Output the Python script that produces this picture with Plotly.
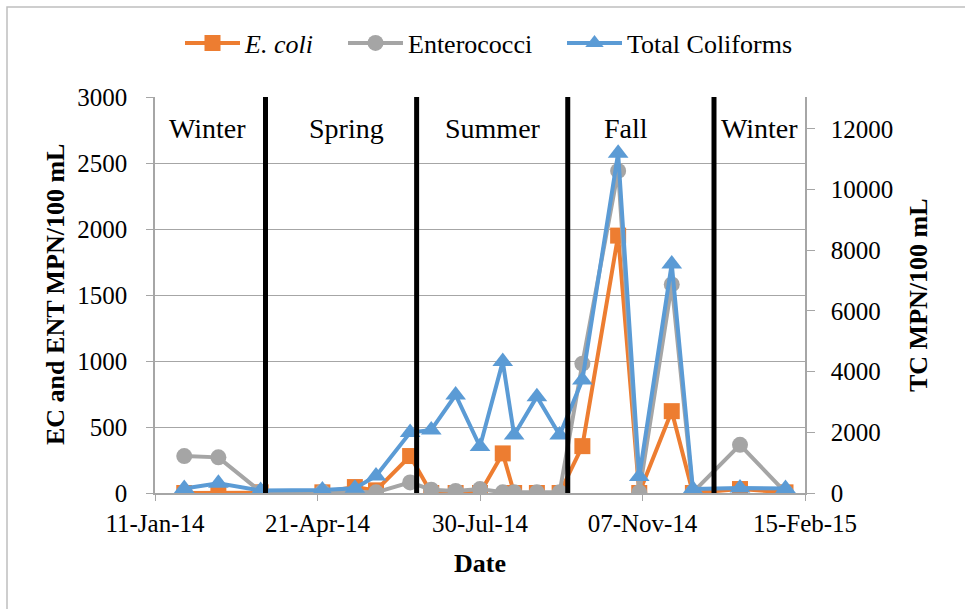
import plotly.graph_objects as go

# Sampling dates and bacterial counts (MPN/100 mL)
dates = [
    "2014-01-29", "2014-02-19", "2014-03-17", "2014-04-24", "2014-05-14",
    "2014-05-27", "2014-06-17", "2014-06-30", "2014-07-15", "2014-07-30",
    "2014-08-13", "2014-08-20", "2014-09-03", "2014-09-17", "2014-10-01",
    "2014-10-23", "2014-11-05", "2014-11-25", "2014-12-08", "2015-01-06",
    "2015-02-03",
]
e_coli = [0, 0, 5, 5, 45, 20, 280, 0, 0, 0, 300, 0, 0, 0, 355, 1950, 0, 620, 0, 30, 5]
enterococci = [280, 270, 10, 10, 5, 5, 80, 25, 15, 30, 5, 5, 5, 5, 980, 2440, 5, 1580, 5, 365, 5]
total_coliforms = [150, 320, 80, 100, 155, 560, 1990, 2080, 3230, 1530, 4330, 1910, 3175,
                   1910, 3725, 11200, 540, 7550, 130, 165, 150]

# Season boundaries (equinoxes / solstices) and season labels
season_bounds = ["2014-03-20", "2014-06-21", "2014-09-22", "2014-12-21"]
season_names = ["Winter", "Spring", "Summer", "Fall", "Winter"]
season_label_dates = ["2014-02-12", "2014-05-09", "2014-08-07", "2014-10-28", "2015-01-18"]

x_ticks = ["2014-01-11", "2014-04-21", "2014-07-30", "2014-11-07", "2015-02-15"]
tc_ticks = [0, 2000, 4000, 6000, 8000, 10000, 12000]

FONT = "Liberation Serif, Times New Roman, serif"
ORANGE = "#ED7D31"
GRAY = "#A5A5A5"
BLUE = "#5B9BD5"
GRID = "#A6A6A6"

W, H = 965, 609
L, R, T, B = 155, 160, 97, 116
PW, PH = W - L - R, H - T - B


def px_x(px):
    return (px - L) / PW


def px_y(py):
    return (H - B - py) / PH


fig = go.Figure()

fig.add_trace(go.Scatter(
    x=dates, y=e_coli, name="<i>E. coli</i>", mode="lines+markers",
    line=dict(color=ORANGE, width=4),
    marker=dict(symbol="square", size=16, color=ORANGE),
    legend="legend",
))
fig.add_trace(go.Scatter(
    x=dates, y=enterococci, name="Enterococci", mode="lines+markers",
    line=dict(color=GRAY, width=4),
    marker=dict(symbol="circle", size=16, color=GRAY),
    legend="legend2",
))
fig.add_trace(go.Scatter(
    x=dates, y=total_coliforms, name="Total Coliforms", mode="lines+markers",
    line=dict(color=BLUE, width=4),
    marker=dict(symbol="triangle-up", size=18, color=BLUE),
    yaxis="y2", legend="legend3",
))

# Vertical season dividers
for d in season_bounds:
    fig.add_shape(type="line", xref="x", yref="paper", x0=d, x1=d, y0=0, y1=1,
                  line=dict(color="black", width=5), layer="above")

annotations = []
for name, d in zip(season_names, season_label_dates):
    annotations.append(dict(x=d, y=px_y(128), xref="x", yref="paper", text=name,
                            showarrow=False, font=dict(family=FONT, size=28, color="black"),
                            xanchor="center", yanchor="middle"))

annotations += [
    dict(x=px_x(55), y=0.5, xref="paper", yref="paper", text="<b>EC and ENT MPN/100 mL</b>",
         textangle=-90, showarrow=False, font=dict(family=FONT, size=26, color="black"),
         xanchor="center", yanchor="middle"),
    dict(x=px_x(918), y=0.5, xref="paper", yref="paper", text="<b>TC MPN/100 mL</b>",
         textangle=-90, showarrow=False, font=dict(family=FONT, size=26, color="black"),
         xanchor="center", yanchor="middle"),
    dict(x=0.5, y=px_y(563), xref="paper", yref="paper", text="<b>Date</b>",
         showarrow=False, font=dict(family=FONT, size=26, color="black"),
         xanchor="center", yanchor="middle"),
]

# Outer chart frame
fig.add_shape(type="rect", xref="paper", yref="paper",
              x0=px_x(7), x1=px_x(1100), y0=px_y(700), y1=px_y(7),
              line=dict(color="#BFBFBF", width=1.5), layer="below")

legend_common = dict(orientation="h", yanchor="middle", xanchor="left",
                     font=dict(family=FONT, size=26, color="black"),
                     bgcolor="rgba(0,0,0,0)", itemwidth=55, tracegroupgap=0)

fig.update_layout(
    width=W, height=H,
    margin=dict(l=L, r=R, t=T, b=B),
    paper_bgcolor="white", plot_bgcolor="white",
    font=dict(family=FONT, size=25, color="black"),
    showlegend=True,
    legend=dict(x=px_x(180), y=px_y(43), **legend_common),
    legend2=dict(x=px_x(343), y=px_y(43), **legend_common),
    legend3=dict(x=px_x(562), y=px_y(43), **legend_common),
    xaxis=dict(
        type="date", range=["2014-01-11", "2015-02-15"],
        tickvals=x_ticks, tickformat="%d-%b-%y",
        showgrid=False, showline=True, linecolor=GRID, linewidth=1.5,
        ticks="outside", ticklen=6, tickcolor=GRID,
        tickfont=dict(family=FONT, size=25, color="black"), ticklabelstandoff=1,
        zeroline=False,
    ),
    yaxis=dict(
        range=[0, 3000], dtick=500, tick0=0,
        showgrid=True, gridcolor=GRID, gridwidth=1.2,
        showline=True, linecolor=GRID, linewidth=1.5,
        ticks="outside", ticklen=7, tickcolor=GRID,
        tickfont=dict(family=FONT, size=25, color="black"), ticklabelstandoff=14,
        zeroline=False,
    ),
    yaxis2=dict(
        range=[0, 13050], tickvals=tc_ticks, tickformat="d",
        overlaying="y", side="right", showgrid=False,
        showline=True, linecolor=GRID, linewidth=1.5,
        ticks="outside", ticklen=8, tickcolor=GRID,
        tickfont=dict(family=FONT, size=25, color="black"), ticklabelstandoff=11,
        zeroline=False,
    ),
    annotations=annotations,
)

fig.write_html("out.html")
